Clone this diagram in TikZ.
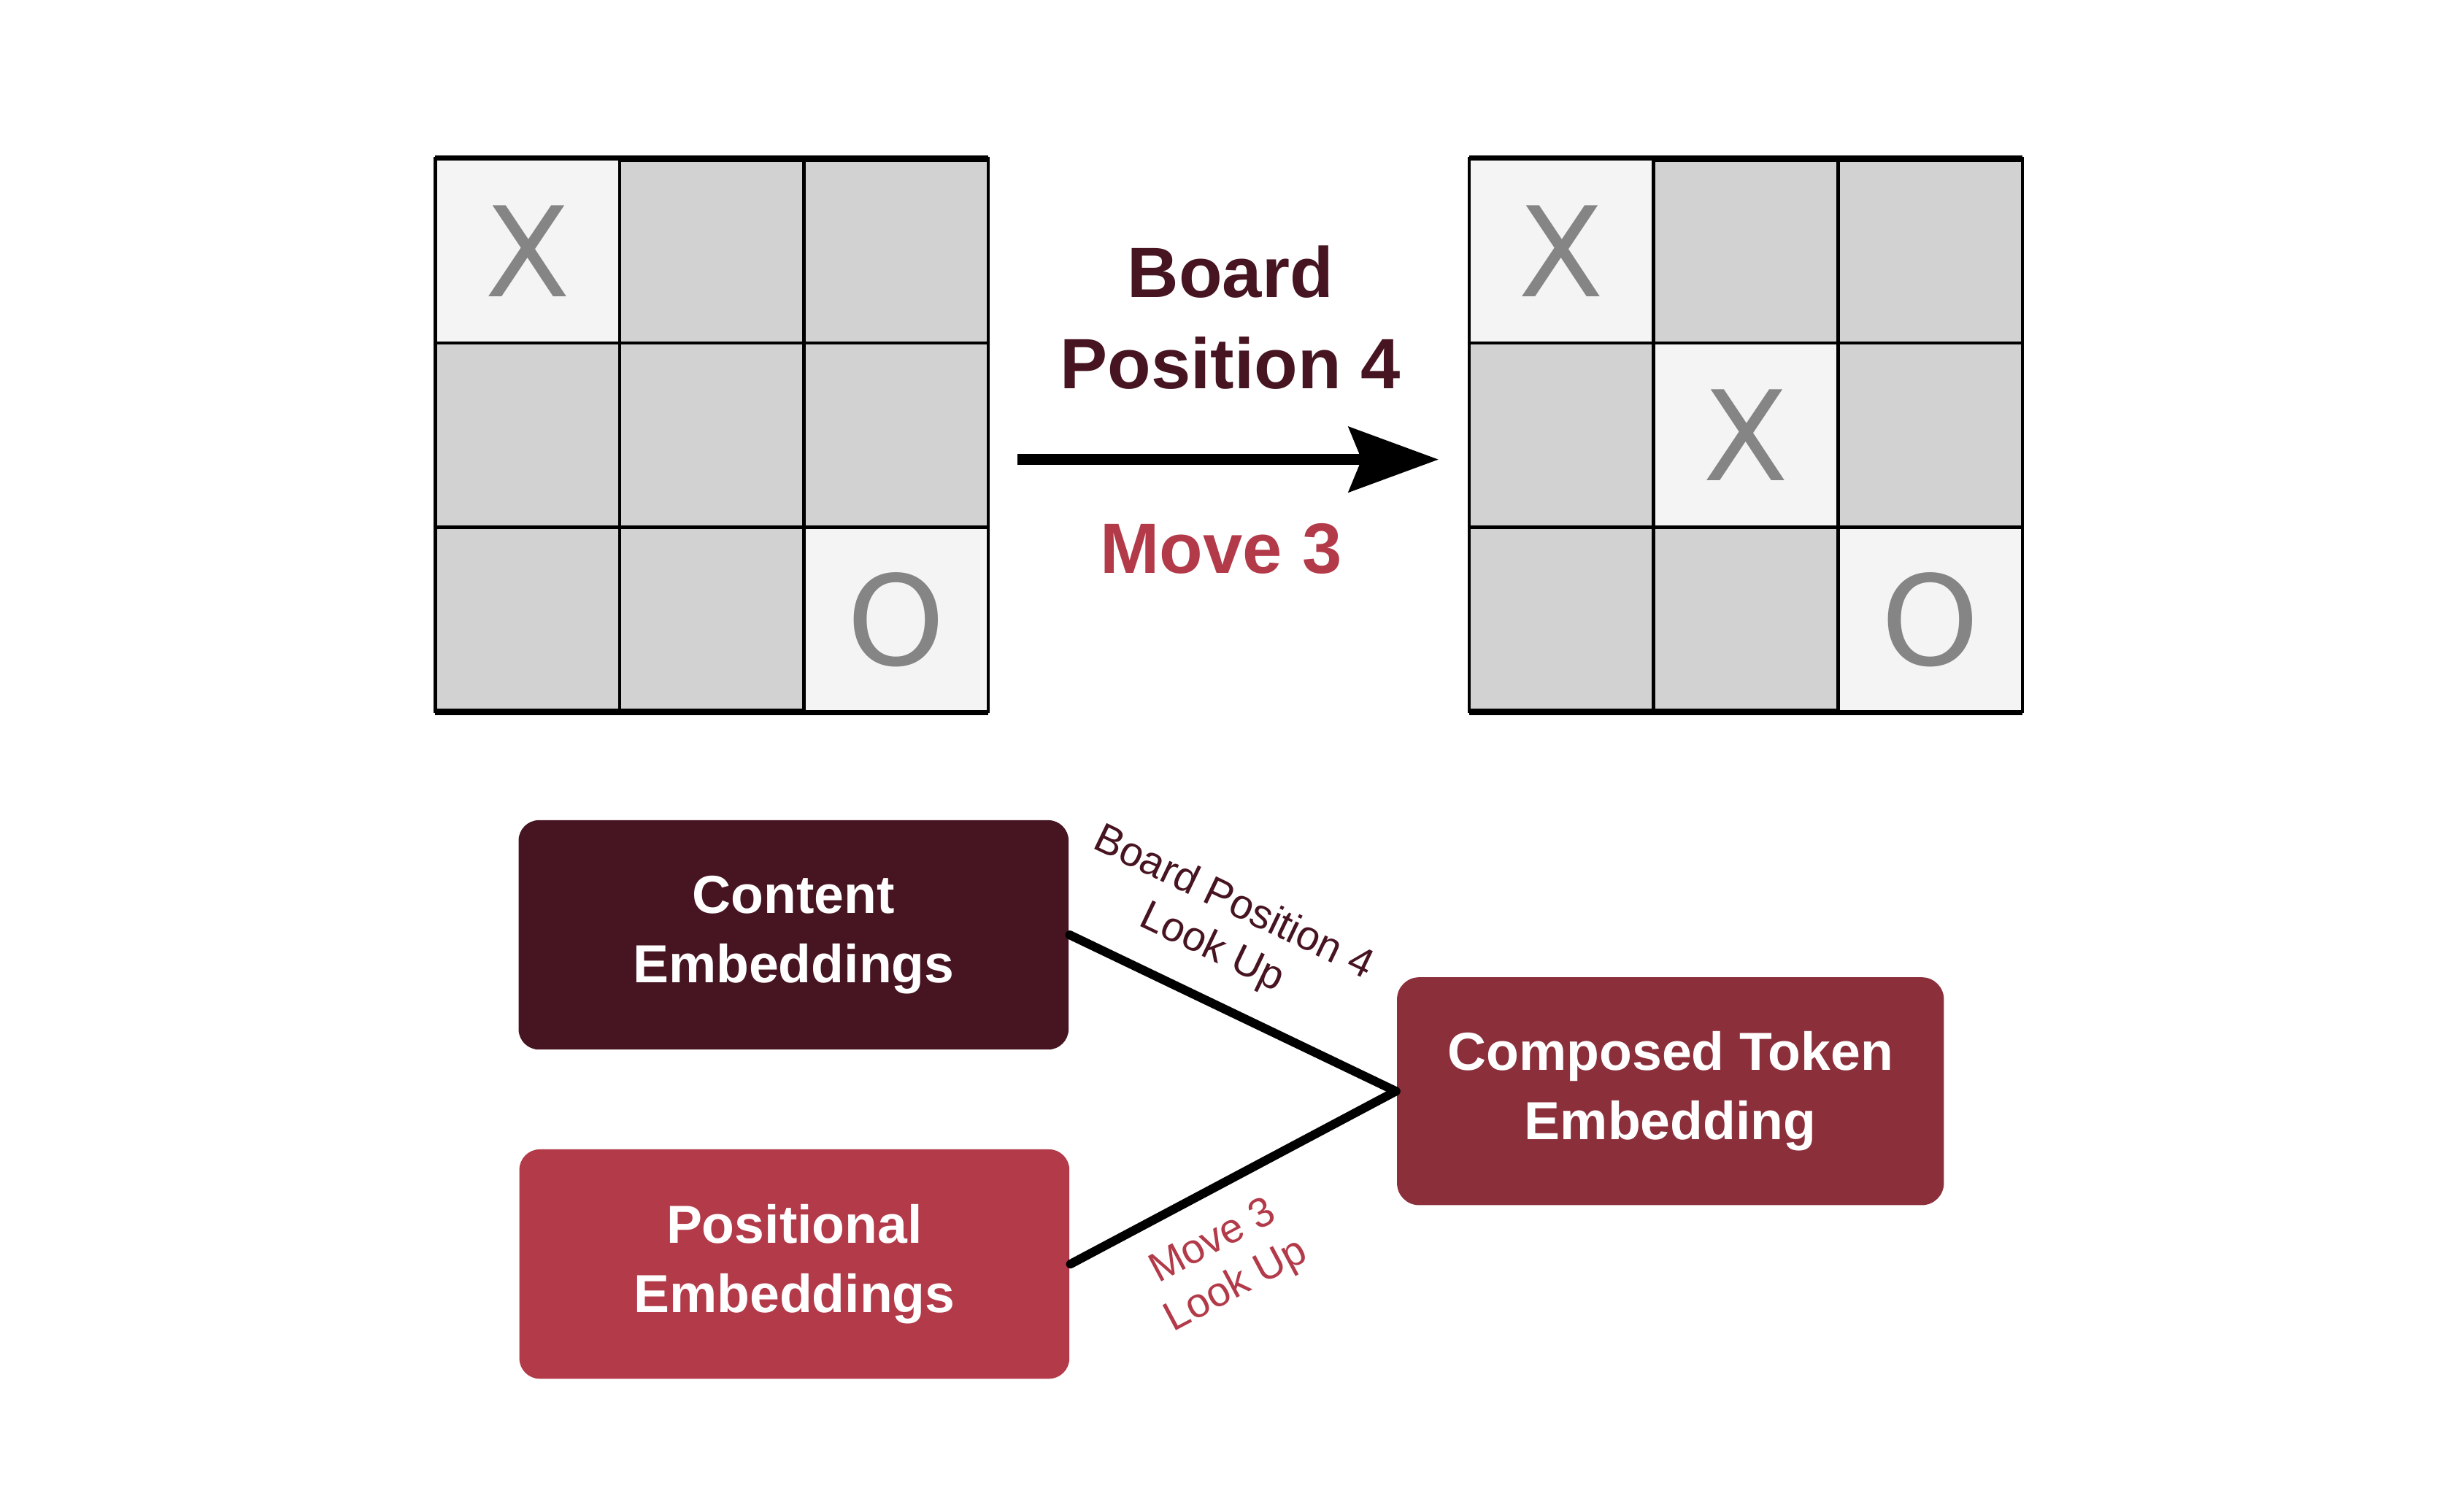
\documentclass[tikz,border=0pt]{standalone}
\usepackage{fontspec}
\setmainfont{Liberation Sans}
\newfontfamily\piecefont{DejaVu Sans}
\usetikzlibrary{arrows.meta}
\definecolor{wine}{RGB}{71,20,33}
\definecolor{rose}{RGB}{178,58,73}
\definecolor{claret}{RGB}{139,47,59}
\definecolor{cellgray}{RGB}{210,210,210}
\definecolor{celllight}{RGB}{244,244,244}
\definecolor{piecegray}{RGB}{133,133,133}
\newcommand{\board}[3] {
    \tikzset{
        cell/.style={
            draw,
            line width=0.6pt,
            minimum size=11.73mm,
            inner sep=0mm,
            outer sep=0mm,
            fill=cellgray
        }
    }
    \foreach \r in {0,1,2}
        \foreach \c in {0,1,2}
            \node[cell] (#3\r\c) at ({#1+1.173*\c}, {#2-1.173*\r}) {};
    \draw[line width=1.2pt] (#300.north west) -- (#302.north east);
    \draw[line width=1.2pt] (#320.south west) -- (#322.south east);
}
\newcommand{\piece}[2] {
    \node[cell,fill=celllight,text=piecegray,font=\piecefont\fontsize{22.6}{27}\selectfont] (#1p) at (#1) {#2};
}
\tikzset{
    embed/.style={
        rounded corners=1.3mm,
        minimum width=35mm,
        minimum height=14.6mm,
        align=center,
        text=white,
        font=\fontsize{9.7}{12.5}\selectfont\bfseries
    },
    lookup/.style={
        font=\fontsize{7.5}{9}\selectfont,
        align=center,
        inner sep=0mm,
        sloped,
        pos=0.37
    },
    link/.style={line width=1.6pt,line cap=round,line join=round},
    headline/.style={font=\fontsize{12.9}{16.5}\selectfont\bfseries,align=center}
}

\begin{document}
\begin{tikzpicture}
    \useasboundingbox (0,0) rectangle (15.68,9.47);
    \board{3.3565}{7.8735}{L}
    \piece{L00}{X}
    \piece{L22}{O}
    \board{9.9365}{7.8735}{R}
    \piece{R00}{X}
    \piece{R11}{X}
    \piece{R22}{O}
    \draw[line width=2pt,-{Stealth[length=5.7mm,width=4.1mm,inset=0.8mm]}]
        ([shift={(0.185,-0.155)}]L12.east) -- ([shift={(-0.195,-0.155)}]R10.west);
    \node[headline,text=wine] (boardpos) at (7.83,7.45) {Board\\Position 4};
    \node[headline,text=rose,anchor=base] (move) at (7.77,5.82) {Move 3};

    \node[embed,fill=wine] (content) at (5.05,3.52) {Content\\Embeddings};
    \node[embed,fill=rose] (positional) at (5.055,1.425) {Positional\\Embeddings};
    \node[embed,fill=claret,minimum width=34.8mm,minimum height=14.5mm,rounded corners=1.4mm] (composed) at (10.63,2.525) {Composed Token\\Embedding};
    \draw[link] (content.east) -- node[lookup,above=1.6mm,text=wine] (boardlookup) {Board Position 4\\Look Up} (composed.west);
    \draw[link] (positional.east) -- node[lookup,below=1.6mm,text=rose] (movelookup) {Move 3\\Look Up} (composed.west);
\end{tikzpicture}
\end{document}
